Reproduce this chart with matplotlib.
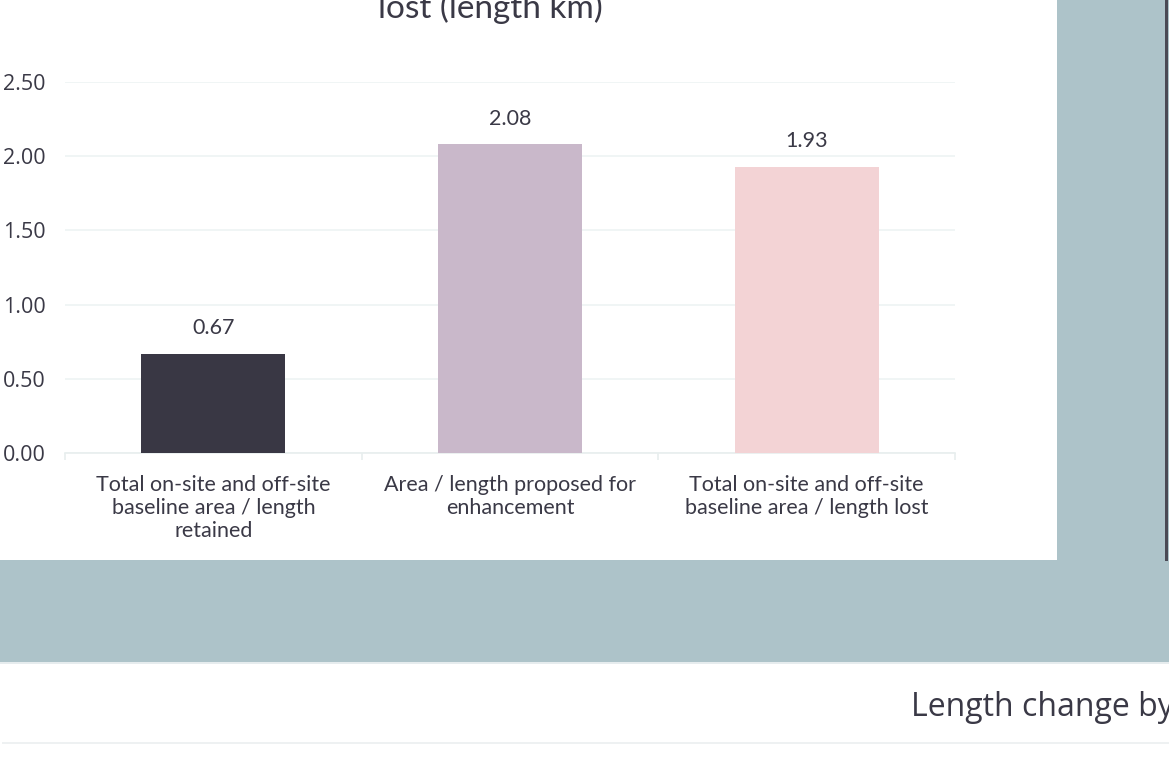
import matplotlib.pyplot as plt
from matplotlib.patches import Rectangle

categories = ["Total on-site and off-site\nbaseline area / length\nretained",
              "Area / length proposed for\nenhancement",
              "Total on-site and off-site\nbaseline area / length lost"]
values = [0.67, 2.08, 1.93]
bar_colors = ["#393744", "#C9B8CA", "#F3D3D5"]
y_ticks = [0.0, 0.5, 1.0, 1.5, 2.0, 2.5]

W, H = 1169, 771
text_color = "#3A3946"
page_bg = "#ADC3C9"

fig = plt.figure(figsize=(W / 100, H / 100), dpi=100)
fig.patch.set_facecolor("white")


def px_rect(x0, y0, x1, y1, **kw):
    # rectangle given in pixel coords measured from the top-left corner
    r = Rectangle((x0 / W, 1 - y1 / H), (x1 - x0) / W, (y1 - y0) / H,
                  transform=fig.transFigure, **kw)
    fig.add_artist(r)


# dashboard background around the card
px_rect(0, 560, W, 662, facecolor=page_bg, edgecolor="none", zorder=0)
px_rect(1057, 0, W, 662, facecolor=page_bg, edgecolor="none", zorder=0)
px_rect(1165, 0, 1168, 561, facecolor="#4A4A55", edgecolor="none", zorder=1)
px_rect(0, 662, W, 664, facecolor="#E6ECEE", edgecolor="none", zorder=1)
px_rect(2, 742, W, 744, facecolor="#EEF1F2", edgecolor="none", zorder=1)

# next card heading
fig.text(911 / W, 1 - 707 / H, "Length change by", fontsize=23, color=text_color,
         family="Open Sans", ha="left", va="center")

# chart title, top part runs off the page
fig.text(490 / W, 1 - 24 / H, "lost (length km)", fontsize=24, color=text_color,
         family="Lato", ha="center", va="bottom")

ax = fig.add_axes([65 / W, (H - 453) / H, (955 - 65) / W, (453 - 82) / H])
ax.set_facecolor("none")

x = range(len(categories))
bars = ax.bar(x, values, width=0.485, color=bar_colors, zorder=3)

for rect, v in zip(bars, values):
    ax.annotate(f"{v:.2f}", (rect.get_x() + rect.get_width() / 2, v),
                xytext=(0, 11), textcoords="offset points", ha="center",
                va="bottom", fontsize=15.5, color=text_color, family="Lato")

ax.set_xlim(-0.5, 2.5)
ax.set_ylim(0, 2.5)
ax.set_yticks(y_ticks)
ax.set_yticklabels([f"{t:.2f}" for t in y_ticks], family="Open Sans")
ax.set_xticks(list(x))
ax.set_xticklabels(categories, family="Lato", linespacing=1.17)
ax.set_xticks([-0.5, 0.5, 1.5, 2.5], minor=True)

ax.grid(axis="y", color="#EEF3F3", linewidth=1.2, zorder=0)
ax.tick_params(axis="y", length=0, pad=14, labelsize=15.5, labelcolor=text_color)
ax.tick_params(axis="x", which="major", length=0, pad=16, labelsize=15.5,
               labelcolor=text_color)
ax.tick_params(axis="x", which="minor", length=5, width=1.2, color="#E8EEEE")

for side in ["top", "right", "left"]:
    ax.spines[side].set_visible(False)
ax.spines["bottom"].set_color("#E8EEEE")
ax.spines["bottom"].set_linewidth(1.2)

fig.savefig("out.png", dpi=100)
